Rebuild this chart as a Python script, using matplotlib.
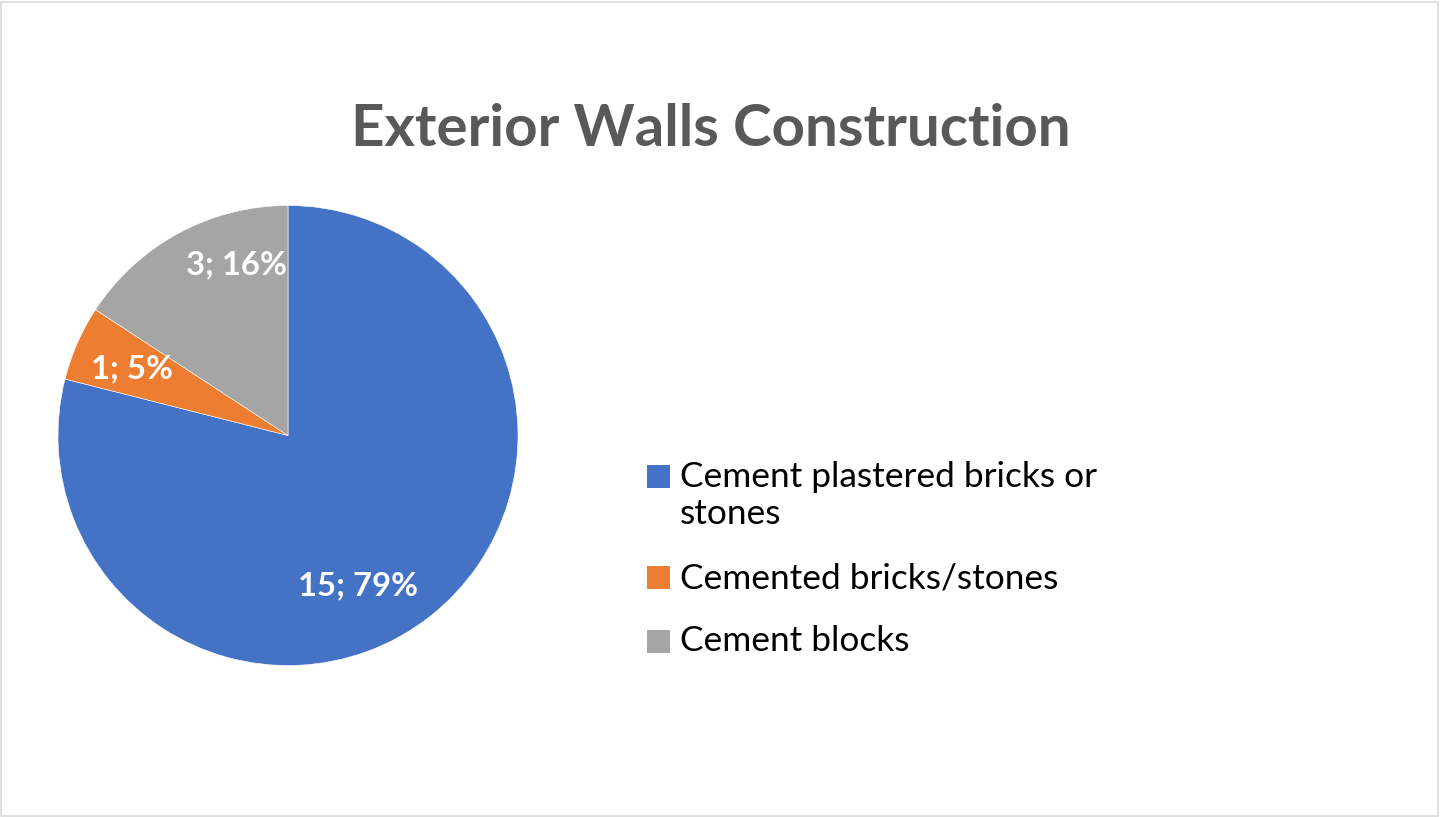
import matplotlib
matplotlib.use("Agg")
import matplotlib.pyplot as plt
from matplotlib.patches import Rectangle
import numpy as np

title = "Exterior Walls Construction"
categories = ["Cement plastered bricks or\nstones", "Cemented bricks/stones", "Cement blocks"]
counts = [15, 1, 3]
percents = [79, 5, 16]
colors = ["#4472C4", "#ED7D31", "#A5A5A5"]

W, H = 1440, 817
fig = plt.figure(figsize=(W / 100, H / 100), dpi=100)
fig.patch.set_facecolor("white")
fig.patches.append(Rectangle((1 / W, 1 / H), 1 - 3 / W, 1 - 3 / H, transform=fig.transFigure,
                             fill=False, edgecolor="#D9D9D9", linewidth=1.2))
renderer = fig.canvas.get_renderer()

font = ["Lato", "DejaVu Sans"]


def px(x, y):
    """pixel (from top-left) -> figure fraction"""
    return x / W, 1 - y / H


def fit(t, target):
    w = t.get_window_extent(renderer).width
    t.set_fontsize(t.get_fontsize() * target / w)


# pie axes: center (288, 435.5), radius 230 px
cx, cy, r = 288, 435.5, 230
ax = fig.add_axes([(cx - r) / W, (H - cy - r) / H, 2 * r / W, 2 * r / H])
wedges, _ = ax.pie(counts, colors=colors, startangle=90, counterclock=False, radius=1,
                   wedgeprops=dict(linewidth=0.4, edgecolor="white"))
ax.set_xlim(-1, 1)
ax.set_ylim(-1, 1)
ax.set_aspect("equal")
ax.axis("off")

# label positions (radius fraction, angle deg) mimic Excel best-fit
label_pos = [(0.712, -64.7), (0.743, 156.0), (0.787, 106.5)]
labels = []
for (rad, ang), c, p in zip(label_pos, counts, percents):
    x = rad * np.cos(np.radians(ang))
    y = rad * np.sin(np.radians(ang))
    labels.append(ax.text(x, y, f"{c}; {p}%", ha="center", va="center_baseline", color="white",
                          fontsize=20, fontweight="bold", family=font))
fit(labels[0], 120)
for t in labels[1:]:
    t.set_fontsize(labels[0].get_fontsize())

tt = fig.text(*px(711, 146), title, ha="center", va="baseline", fontsize=36,
              fontweight="bold", color="#595959", family=font)
fit(tt, 718)

# legend (manual, Excel-style: key aligned with first line)
key_centers = [476, 577, 641]
baselines = [487, 588, 651]
line_gap = 37
ref_line = None
legend_texts = []
for cat, col, kc, bl in zip(categories, colors, key_centers, baselines):
    fig.patches.append(Rectangle(px(646.5, kc + 11.5), 23 / W, 23 / H, transform=fig.transFigure,
                                 facecolor=col, edgecolor="none"))
    for i, line in enumerate(cat.split("\n")):
        t = fig.text(*px(680, bl + i * line_gap), line, ha="left", va="baseline",
                     fontsize=22, color="#000000", family=font)
        legend_texts.append(t)
fit(legend_texts[0], 416)
for t in legend_texts[1:]:
    t.set_fontsize(legend_texts[0].get_fontsize())

fig.savefig("out.png", dpi=100, facecolor="white")
